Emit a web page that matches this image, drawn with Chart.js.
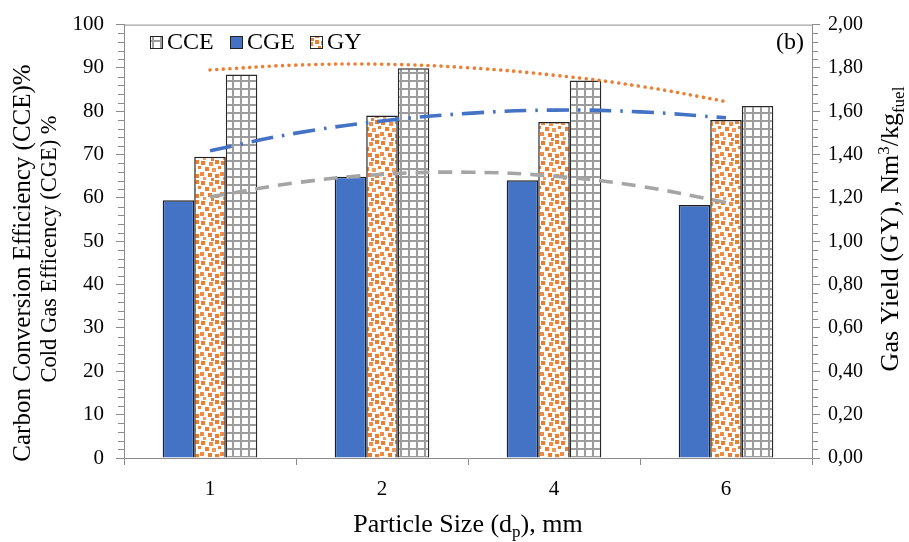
<!DOCTYPE html>
<html>
<head>
<meta charset="utf-8">
<script src="https://cdn.jsdelivr.net/npm/chart.js@4/dist/chart.umd.min.js"></script>
<style>
  html, body { margin: 0; padding: 0; background: #fff; }
  #wrap { position: relative; width: 909px; height: 542px; }
  #wrap canvas { position: absolute; left: 0; top: 0; display: block; }
</style>
</head>
<body>
<div id="wrap">
  <canvas id="c" width="909" height="542"></canvas>
  <canvas id="t" width="909" height="542"></canvas>
</div>
<script>
// Particle size categories (mm)
const sizes = ['1', '2', '4', '6'];
// Cold gas efficiency, %
const cge = [59.5, 64.9, 64.1, 58.4];
// Gas yield, Nm3/kg fuel
const gy = [1.39, 1.58, 1.55, 1.56];
// Carbon conversion efficiency, %
const cce = [88.5, 89.9, 87.1, 81.2];

// Polynomial trend curves, sampled every half category (1 = first category)
const trendX = [1, 1.5, 2, 2.5, 3, 3.5, 4];
const cceTrend = [88.4, 89.5, 89.7, 88.9, 87.2, 84.7, 81.2];
const gyTrend = [1.40, 1.48, 1.535, 1.57, 1.585, 1.577, 1.55];
const cgeTrend = [59.5, 62.7, 64.6, 65.1, 64.2, 61.9, 58.2];

const SERIF = '"Liberation Serif", "Times New Roman", serif';
// shared frame: plot area spans x 124..812, y 19..458
const FRAME = { left: 124, right: 97, top: 19, bottom: 84 };

const canvas = document.getElementById('c');
const ctx = canvas.getContext('2d');

// Fill patterns
function gridPattern(cell, line) {
  const c = document.createElement('canvas');
  c.width = c.height = cell;
  const g = c.getContext('2d');
  g.fillStyle = '#fff';
  g.fillRect(0, 0, cell, cell);
  g.fillStyle = '#9c9c9c';
  g.fillRect(0, 0, cell, line);
  g.fillRect(0, 0, line, cell);
  return ctx.createPattern(c, 'repeat');
}
function confettiPattern() {
  const c = document.createElement('canvas');
  c.width = c.height = 20;
  const g = c.getContext('2d');
  g.fillStyle = '#fff';
  g.fillRect(0, 0, 20, 20);
  const squares = [
    [1, 1, 4, '#ED7D31'], [9, 2, 4, '#F08A45'], [15, 0, 4, '#ED7D31'],
    [5, 7, 4, '#ED7D31'], [12, 8, 4, '#F29A5C'], [18, 6, 3, '#ED7D31'],
    [0, 12, 4, '#F08A45'], [8, 13, 4, '#ED7D31'], [15, 14, 4, '#ED7D31'],
    [3, 17, 3, '#F29A5C'], [11, 18, 3, '#ED7D31']
  ];
  squares.forEach(([x, y, s, col]) => {
    g.fillStyle = col;
    g.fillRect(x, y, s, s);
    // wrap around the tile edges
    if (x + s > 20) g.fillRect(x - 20, y, s, s);
    if (y + s > 20) g.fillRect(x, y - 20, s, s);
  });
  return ctx.createPattern(c, 'repeat');
}
const gridFill = gridPattern(8, 2);
const confettiFill = confettiPattern();

const pts = (arr) => trendX.map((x, i) => ({ x: x, y: arr[i] }));

// draws a run of text pieces (with sub/superscripts) starting at x0
function drawRuns(c, parts, x0, base) {
  parts.forEach(p => {
    c.font = p[1];
    c.fillText(p[0], x0, base + p[2]);
    x0 += c.measureText(p[0]).width;
  });
}
function runWidth(c, parts) {
  let w = 0;
  parts.forEach(p => { c.font = p[1]; w += c.measureText(p[0]).width; });
  return w;
}

// Axis titles, legend, minor ticks and panel tag
const decor = {
  id: 'decor',
  afterDraw(chart) {
    const c = chart.ctx;
    const a = chart.chartArea;
    const ys = chart.scales.y, y2 = chart.scales.y2;
    c.save();
    // top frame line
    c.strokeStyle = '#8c8c8c';
    c.lineWidth = 1;
    c.beginPath();
    c.moveTo(a.left, a.top + 0.5);
    c.lineTo(a.right, a.top + 0.5);
    c.stroke();
    // minor ticks
    c.beginPath();
    for (let v = 0; v <= 100; v += 2) {
      if (v % 10 === 0) continue;
      const p = Math.round(ys.getPixelForValue(v)) + 0.5;
      c.moveTo(a.left - 6, p); c.lineTo(a.left, p);
    }
    for (let i = 0; i <= 50; i++) {
      if (i % 5 === 0) continue;
      const p = Math.round(y2.getPixelForValue(i * 0.04)) + 0.5;
      c.moveTo(a.right, p); c.lineTo(a.right + 6, p);
    }
    c.stroke();

    c.fillStyle = '#000';
    // left axis title (two lines)
    c.textAlign = 'center';
    c.textBaseline = 'middle';
    [['Carbon Conversion Efficiency (CCE)%', 23, 263, 25],
     ['Cold Gas Efficency (CGE) %', 50, 249, 22.5]].forEach(([t, x, y, fs]) => {
      c.save();
      c.font = fs + 'px ' + SERIF;
      c.translate(x, y);
      c.rotate(-Math.PI / 2);
      c.fillText(t, 0, 0);
      c.restore();
    });

    // right axis title with superscript / subscript
    const big = '26px ' + SERIF, small = '17px ' + SERIF;
    const parts = [
      ['Gas Yield (GY), Nm', big, 0],
      ['3', small, -9],
      ['/kg', big, 0],
      ['fuel', small, 6]
    ];
    c.save();
    c.translate(889, 229);
    c.rotate(-Math.PI / 2);
    c.textAlign = 'left';
    c.textBaseline = 'alphabetic';
    drawRuns(c, parts, -runWidth(c, parts) / 2, 9);
    c.restore();

    // bottom axis title with subscript
    const xparts = [
      ['Particle Size (d', big, 0],
      ['p', small, 5],
      ['), mm', big, 0]
    ];
    c.textAlign = 'left';
    c.textBaseline = 'alphabetic';
    drawRuns(c, xparts, (a.left + a.right) / 2 - runWidth(c, xparts) / 2, 532);

    // legend inside the plot
    const byLabel = (l) => chart.data.datasets.find(d => d.label === l);
    const items = [
      [byLabel('CCE'), 150],
      [byLabel('CGE'), 230],
      [byLabel('GY'), 310]
    ];
    c.font = '24px ' + SERIF;
    c.textBaseline = 'middle';
    items.forEach(([ds, x]) => {
      c.fillStyle = ds.backgroundColor;
      c.fillRect(x, 36, 12, 12);
      c.strokeStyle = '#222';
      c.lineWidth = 1;
      c.strokeRect(x + 0.5, 36.5, 12, 12);
      c.fillStyle = '#000';
      c.fillText(ds.label, x + 17, 43);
    });

    // panel tag
    c.textAlign = 'right';
    c.fillText('(b)', 804, 43);
    c.restore();
  }
};

Chart.defaults.font.family = SERIF;
Chart.defaults.color = '#000';

// Bars with both value axes
new Chart(ctx, {
  type: 'bar',
  data: {
    labels: sizes,
    datasets: [
      { label: 'CGE', data: cge, yAxisID: 'y',
        backgroundColor: '#4472C4', borderColor: '#1f1f1f', borderWidth: 1.5 },
      { label: 'GY', data: gy, yAxisID: 'y2',
        backgroundColor: confettiFill, borderColor: '#1f1f1f', borderWidth: 1.5 },
      { label: 'CCE', data: cce, yAxisID: 'y',
        backgroundColor: gridFill, borderColor: '#2a2a2a', borderWidth: 1.5 }
    ]
  },
  options: {
    responsive: false,
    animation: false,
    devicePixelRatio: 1,
    layout: { padding: { top: FRAME.top, left: 0, right: 0, bottom: 0 } },
    plugins: { legend: { display: false }, tooltip: { enabled: false }, title: { display: false } },
    categoryPercentage: 0.55,
    barPercentage: 1.0,
    scales: {
      x: {
        type: 'category', position: 'bottom', offset: true,
        grid: { drawOnChartArea: false, offset: true, tickLength: 7, color: '#8c8c8c' },
        border: { color: '#8c8c8c', width: 1 },
        ticks: { font: { size: 21 }, padding: 12, color: '#000' },
        afterFit(s) { s.height = FRAME.bottom; }
      },
      y: {
        position: 'left', min: 0, max: 100,
        grid: { drawOnChartArea: false, tickLength: 8, color: '#8c8c8c' },
        border: { color: '#8c8c8c', width: 1 },
        ticks: { stepSize: 10, font: { size: 21 }, padding: 12, color: '#000' },
        afterFit(s) { s.width = FRAME.left; }
      },
      y2: {
        position: 'right', min: 0, max: 2,
        grid: { drawOnChartArea: false, tickLength: 8, color: '#8c8c8c' },
        border: { color: '#8c8c8c', width: 1 },
        ticks: { stepSize: 0.2, font: { size: 20 }, padding: 8, color: '#000',
          callback: (v) => v.toFixed(2).replace('.', ',') },
        afterFit(s) { s.width = FRAME.right; }
      }
    }
  },
  plugins: [decor]
});

// Trend curves drawn over the bars, on the same plot frame
new Chart(document.getElementById('t').getContext('2d'), {
  type: 'line',
  data: {
    datasets: [
      { label: 'CCE trend', data: pts(cceTrend), yAxisID: 'y',
        borderColor: '#ED7D31', borderWidth: 3.6, borderDash: [0.01, 6.6], borderCapStyle: 'round' },
      { label: 'GY trend', data: pts(gyTrend), yAxisID: 'y2',
        borderColor: '#4472C4', borderWidth: 3.6, borderDash: [22, 9, 2.5, 9] },
      { label: 'CGE trend', data: pts(cgeTrend), yAxisID: 'y',
        borderColor: '#A5A5A5', borderWidth: 3.6, borderDash: [14, 9] }
    ]
  },
  options: {
    responsive: false,
    animation: false,
    devicePixelRatio: 1,
    layout: { padding: FRAME },
    elements: { point: { radius: 0 }, line: { tension: 0.4, fill: false } },
    plugins: { legend: { display: false }, tooltip: { enabled: false } },
    scales: {
      x: { type: 'linear', display: false, min: 0.5, max: 4.5 },
      y: { display: false, min: 0, max: 100 },
      y2: { display: false, position: 'right', min: 0, max: 2 }
    }
  }
});
</script>
</body>
</html>
